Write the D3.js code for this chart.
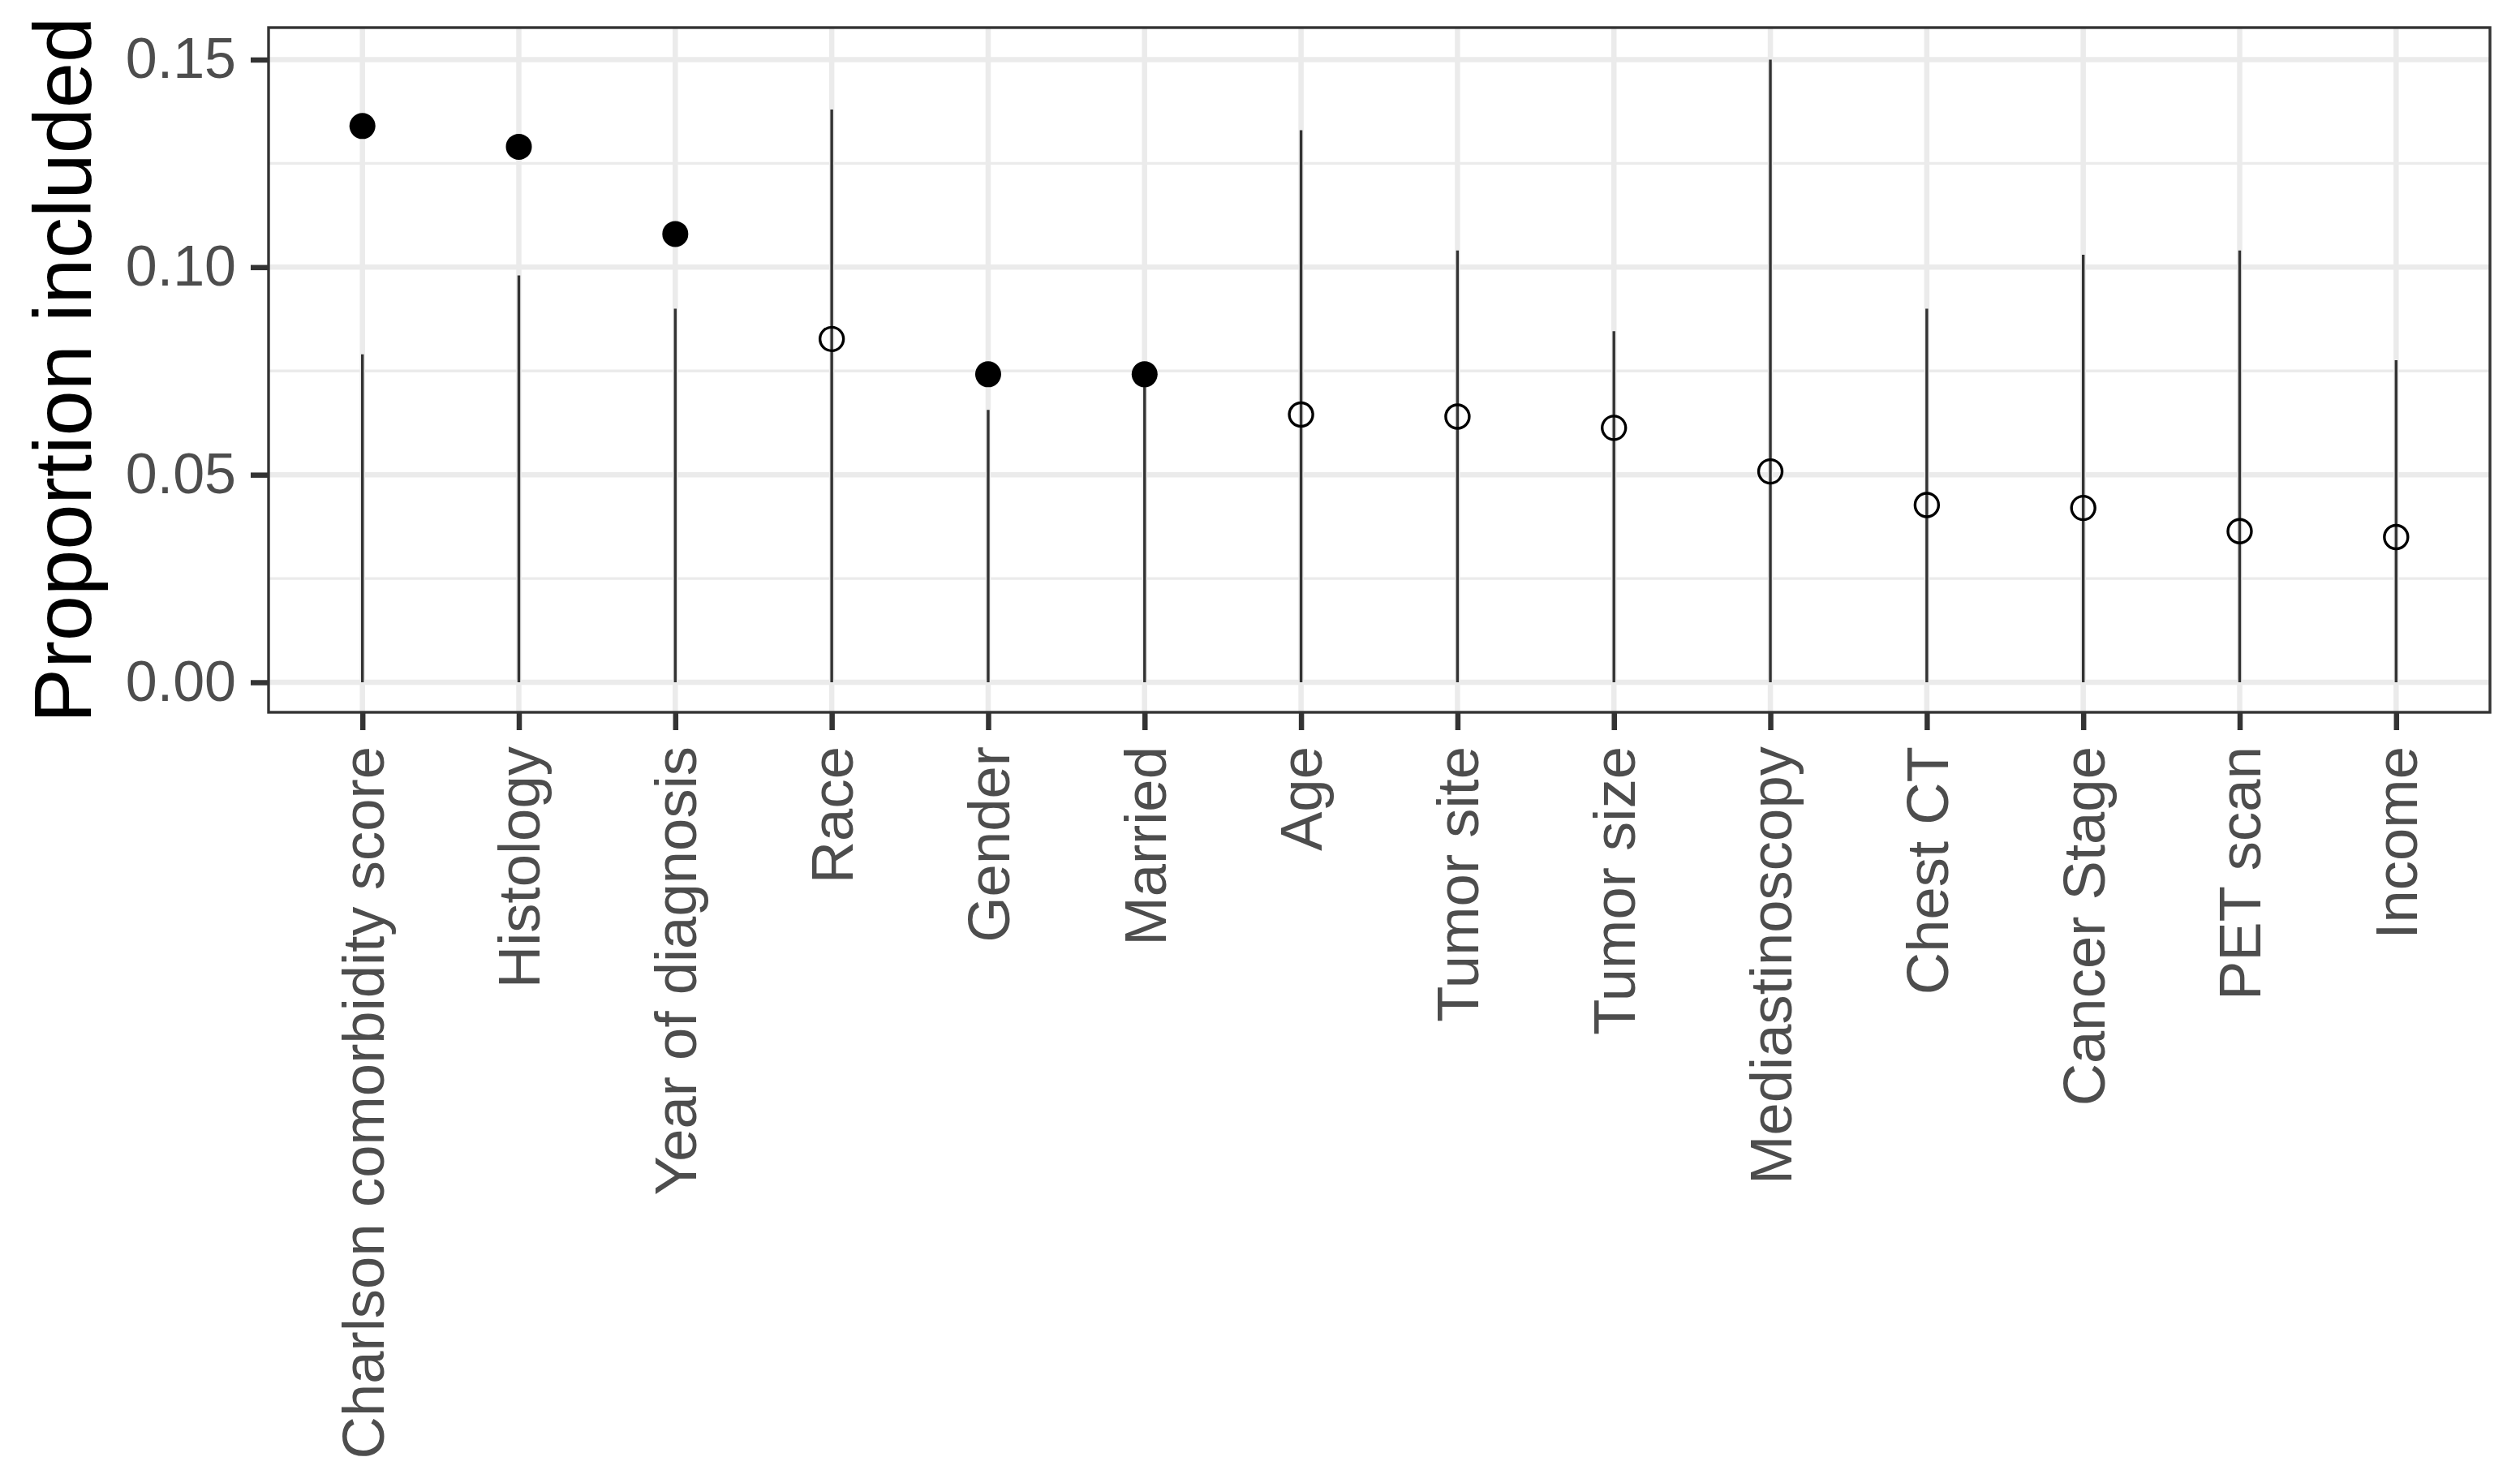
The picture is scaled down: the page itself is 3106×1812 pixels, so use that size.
<!DOCTYPE html>
<html>
<head>
<meta charset="utf-8">
<script src="https://cdn.jsdelivr.net/npm/d3@7"></script>
<style>
  html, body { margin: 0; padding: 0; background: #ffffff; }
  svg { display: block; }
</style>
</head>
<body>
<svg id="chart" width="3106" height="1812"></svg>
<script>
// ---- Data ----
const categories = [
  "Charlson comorbidity score", "Histology", "Year of diagnosis", "Race",
  "Gender", "Married", "Age", "Tumor site", "Tumor size", "Mediastinoscopy",
  "Chest CT", "Cancer Stage", "PET scan", "Income"
];
const proportionIncluded = [
  0.134, 0.129, 0.108, 0.0827, 0.0742, 0.0742, 0.0645, 0.064, 0.0613,
  0.0508, 0.0427, 0.042, 0.0364, 0.035
];
const intervalLow = [0, 0, 0, 0, 0, 0, 0, 0, 0, 0, 0, 0, 0, 0];
const intervalHigh = [
  0.079, 0.098, 0.090, 0.138, 0.0656, 0.0732, 0.133, 0.104, 0.0846,
  0.150, 0.090, 0.103, 0.104, 0.0776
];
const selected = [
  true, true, true, false, true, true, false, false, false,
  false, false, false, false, false
];
const yTicks = [0, 0.05, 0.10, 0.15];
const yTickLabels = ["0.00", "0.05", "0.10", "0.15"];
const yMinorTicks = [0.025, 0.075, 0.125];
const yTitle = "Proportion included";

// ---- Layout ----
const panel = { left: 331, right: 3069, top: 34, bottom: 878 };
const font = "'Liberation Sans', Arial, Helvetica, sans-serif";

const svg = d3.select("#chart");

const x = d3.scalePoint()
  .domain(categories)
  .range([panel.left, panel.right])
  .padding(0.6);

const y = d3.scaleLinear()
  .domain([-0.0075, 0.1575])
  .range([879.4, 35.1]);

const rows = categories.map((c, i) => ({
  cat: c,
  p: proportionIncluded[i],
  lo: intervalLow[i],
  hi: intervalHigh[i],
  sel: selected[i]
}));

// Panel background
svg.append("rect")
  .attr("x", panel.left).attr("y", panel.top)
  .attr("width", panel.right - panel.left)
  .attr("height", panel.bottom - panel.top)
  .attr("fill", "#ffffff");

const grid = svg.append("g");
// minor horizontal grid
grid.selectAll("line.minor").data(yMinorTicks).enter().append("line")
  .attr("x1", panel.left).attr("x2", panel.right)
  .attr("y1", d => y(d)).attr("y2", d => y(d))
  .attr("stroke", "#ebebeb").attr("stroke-width", 3.3);
// major horizontal grid
grid.selectAll("line.major").data(yTicks).enter().append("line")
  .attr("x1", panel.left).attr("x2", panel.right)
  .attr("y1", d => y(d)).attr("y2", d => y(d))
  .attr("stroke", "#ebebeb").attr("stroke-width", 6.5);
// vertical grid
grid.selectAll("line.vert").data(categories).enter().append("line")
  .attr("x1", d => x(d)).attr("x2", d => x(d))
  .attr("y1", panel.top).attr("y2", panel.bottom)
  .attr("stroke", "#ebebeb").attr("stroke-width", 6.5);

// Interval lines
svg.append("g").selectAll("line").data(rows).enter().append("line")
  .attr("x1", d => x(d.cat)).attr("x2", d => x(d.cat))
  .attr("y1", d => y(d.lo)).attr("y2", d => y(d.hi))
  .attr("stroke", "#333333").attr("stroke-width", 3.4);

// Points
const pts = svg.append("g");
pts.selectAll("circle").data(rows).enter().append("circle")
  .attr("cx", d => x(d.cat))
  .attr("cy", d => y(d.p))
  .attr("r", d => d.sel ? 16 : 14.5)
  .attr("fill", d => d.sel ? "#000000" : "none")
  .attr("stroke", "#000000")
  .attr("stroke-width", d => d.sel ? 0 : 3.4);

// Panel border
svg.append("rect")
  .attr("x", panel.left).attr("y", panel.top)
  .attr("width", panel.right - panel.left)
  .attr("height", panel.bottom - panel.top)
  .attr("fill", "none")
  .attr("stroke", "#333333").attr("stroke-width", 3.4);

// Y axis
const yAxis = d3.axisLeft(y)
  .tickValues(yTicks)
  .tickFormat((d, i) => yTickLabels[i])
  .tickSize(21)
  .tickPadding(18);
const gy = svg.append("g")
  .attr("transform", `translate(${panel.left - 1},0)`)
  .call(yAxis);
gy.select(".domain").remove();
gy.selectAll(".tick line").attr("stroke", "#333333").attr("stroke-width", 6.5);
gy.selectAll(".tick text")
  .attr("fill", "#4d4d4d")
  .style("font-family", font)
  .style("font-size", "70px");

// X axis
const xAxis = d3.axisBottom(x)
  .tickSize(21)
  .tickPadding(0);
const gx = svg.append("g")
  .attr("transform", `translate(0,${panel.bottom + 1})`)
  .call(xAxis);
gx.select(".domain").remove();
gx.selectAll(".tick line").attr("stroke", "#333333").attr("stroke-width", 6.5);
gx.selectAll(".tick text")
  .attr("fill", "#4d4d4d")
  .style("font-family", font)
  .style("font-size", "72.5px")
  .attr("text-anchor", "end")
  .attr("x", 0).attr("y", 0).attr("dy", "0.35em")
  .attr("transform", "translate(0,41) rotate(-90)");

// Y title
svg.append("text")
  .attr("transform", `translate(112,${(panel.top + panel.bottom) / 2}) rotate(-90)`)
  .attr("text-anchor", "middle")
  .attr("fill", "#000000")
  .style("font-family", font)
  .style("font-size", "101px")
  .text(yTitle);
</script>
</body>
</html>
